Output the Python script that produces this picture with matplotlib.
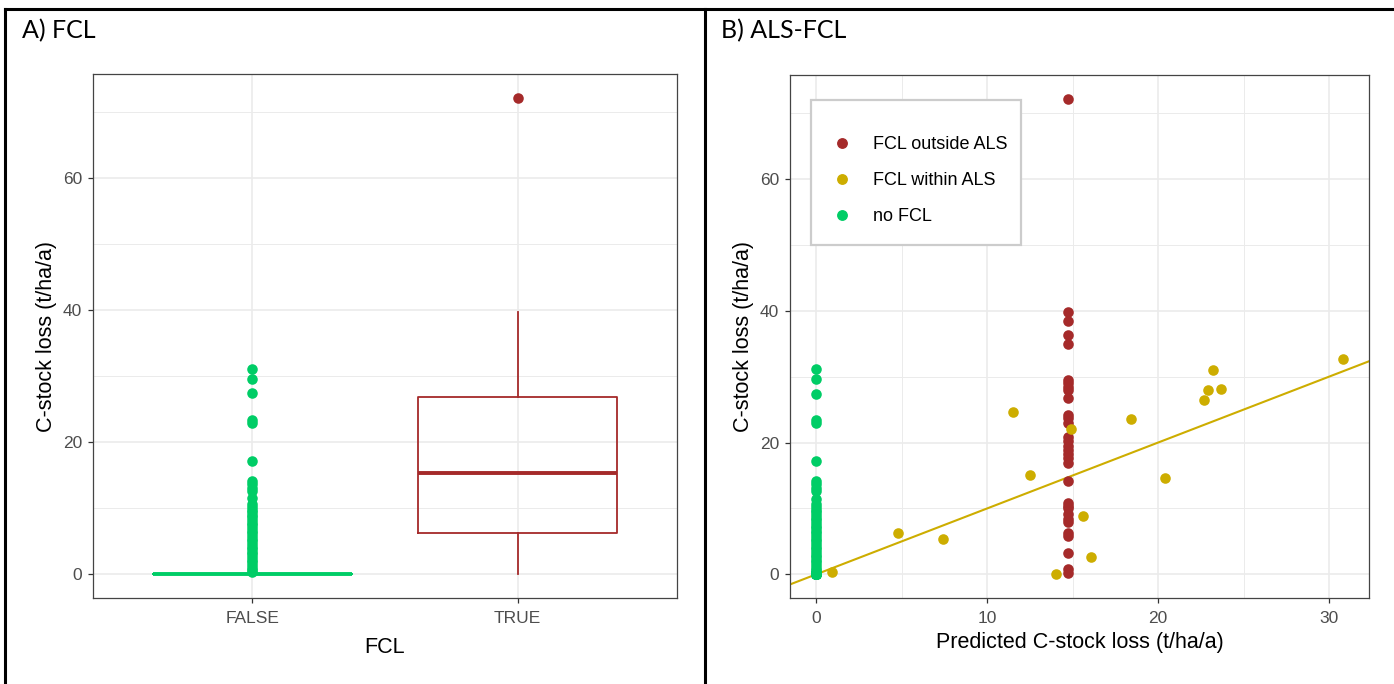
import numpy as np
import matplotlib
matplotlib.use("Agg")
import matplotlib.pyplot as plt
from matplotlib.lines import Line2D
from matplotlib.patches import Rectangle
from matplotlib.ticker import MultipleLocator

plt.rcParams['font.family'] = ['Liberation Sans', 'DejaVu Sans']

# colours used in the original (R names: brown, gold3, springgreen3)
col_out = '#A52A2A'
col_in = '#CDAD00'
col_no = '#00CD66'

# C-stock loss of plots without FCL (non-zero values, the rest sit at 0)
nofcl_loss = [31.1, 29.6, 27.4, 23.4, 22.9, 17.2, 14.2, 13.7, 13.1, 12.6, 11.5,
              10.6, 10.2, 9.8, 9.4, 9.0, 8.6, 8.2, 7.8, 7.4, 7.0, 6.6, 6.2,
              5.8, 5.4, 5.0, 4.6, 4.2, 3.8, 3.4, 3.0, 2.6, 2.2, 1.8, 1.4,
              1.0, 0.6, 0.3]
nofcl_zeros = 25

# FCL outside ALS: observed loss (predicted value is constant)
out_pred = 14.75
out_loss = [72.2, 39.8, 38.4, 36.3, 34.9, 29.5, 29.0, 28.5, 28.0, 26.8, 24.2,
            23.7, 22.9, 20.8, 20.2, 19.5, 18.9, 18.3, 17.6, 16.9, 14.1, 10.8,
            10.4, 10.0, 9.1, 8.4, 8.0, 6.3, 5.8, 3.3, 0.8, 0.2]

# FCL within ALS: predicted vs observed
in_pred = [0.9, 4.8, 7.4, 11.5, 12.5, 14.05, 14.9, 15.6, 16.1, 18.4, 20.4,
           22.7, 22.9, 23.2, 23.7, 30.8]
in_loss = [0.4, 6.2, 5.3, 24.6, 15.0, 0.05, 22.0, 8.8, 2.6, 23.5, 14.6,
           26.5, 28.0, 31.0, 28.1, 32.7]

# boxplot statistics panel A
box_labels = ['FALSE', 'TRUE']
box_q1 = [0.0, 6.2]
box_med = [0.0, 15.3]
box_q3 = [0.0, 26.8]
box_lo = [0.0, 0.0]
box_hi = [0.0, 39.8]
box_fliers = [nofcl_loss, [72.2]]
box_cols = [col_no, col_out]

W, H = 1394, 684
fig = plt.figure(figsize=(W / 100, H / 100), dpi=100)


def style(ax):
    for s in ax.spines.values():
        s.set_color('#444444')
        s.set_linewidth(0.9)
    ax.grid(True, which='major', color='#EBEBEB', lw=1.2, zorder=0)
    ax.grid(True, which='minor', color='#EBEBEB', lw=0.7, zorder=0)
    ax.set_axisbelow(True)
    ax.tick_params(which='major', length=3.5, width=0.9, color='#333333',
                   labelsize=12.5, labelcolor='#4D4D4D', pad=4.5)
    ax.tick_params(axis='x', which='major', pad=6)
    ax.tick_params(which='minor', length=0)
    ax.set_ylim(-3.6, 75.8)
    ax.yaxis.set_major_locator(MultipleLocator(20))
    ax.yaxis.set_minor_locator(MultipleLocator(10))
    ax.set_ylabel('C-stock loss (t/ha/a)', fontsize=15.5, labelpad=4)


# ---- panel A
axA = fig.add_axes([93 / W, 1 - 598 / H, (677 - 93) / W, (598 - 74) / H])
style(axA)
for i in range(2):
    st = [{'med': box_med[i], 'q1': box_q1[i], 'q3': box_q3[i],
           'whislo': box_lo[i], 'whishi': box_hi[i], 'fliers': box_fliers[i]}]
    c = box_cols[i]
    axA.bxp(st, positions=[i + 1], widths=0.75, showcaps=False,
            boxprops=dict(color=c, lw=1.3),
            whiskerprops=dict(color=c, lw=1.3),
            medianprops=dict(color=c, lw=2.8, solid_capstyle='butt'),
            flierprops=dict(marker='o', markerfacecolor=c, markeredgecolor='none',
                            markersize=7.6))
axA.set_xlim(0.4, 2.6)
axA.set_xticks([1, 2])
axA.set_xticklabels(box_labels)
axA.set_xlabel('FCL', fontsize=15.5, labelpad=8)

# ---- panel B
axB = fig.add_axes([790 / W, 1 - 598 / H, (1369 - 790) / W, (598 - 75) / H])
style(axB)
axB.set_xlim(-1.54, 32.34)
axB.xaxis.set_major_locator(MultipleLocator(10))
axB.xaxis.set_minor_locator(MultipleLocator(5))
no_y = nofcl_loss + [0.0] * nofcl_zeros
axB.scatter(np.zeros(len(no_y)), no_y, s=58, color=col_no, lw=0, zorder=3)
axB.scatter(np.full(len(out_loss), out_pred), out_loss, s=58, color=col_out, lw=0, zorder=3)
axB.scatter(in_pred, in_loss, s=58, color=col_in, lw=0, zorder=3)
axB.axline((0, 0), slope=1, color=col_in, lw=1.5, zorder=2)
axB.set_xlabel('Predicted C-stock loss (t/ha/a)', fontsize=15.5, labelpad=4)

# legend box drawn by hand (ggplot pads it unevenly)
axB.add_patch(Rectangle((811 / W, 1 - 245 / H), 210 / W, 145 / H,
                        transform=fig.transFigure, facecolor='white',
                        edgecolor='#CCCCCC', lw=1.6, zorder=4, clip_on=False))
handles = [Line2D([], [], ls='none', marker='o', markersize=6.8, color=c)
           for c in (col_out, col_in, col_no)]
leg = axB.legend(handles, ['FCL outside ALS', 'FCL within ALS', 'no FCL'],
                 loc='upper left', bbox_to_anchor=(837 / W, 1 - 136 / H),
                 bbox_transform=fig.transFigure, fontsize=13, frameon=False,
                 borderpad=0, handlelength=0.5, handletextpad=1.5,
                 labelspacing=1.05, borderaxespad=0)
leg.set_zorder(5)

# ---- panel labels and table frame
fig.text(22 / W, 1 - 38 / H, 'A) FCL', fontsize=18, family=['Lato', 'DejaVu Sans'],
         va='baseline')
fig.text(721 / W, 1 - 38 / H, 'B) ALS-FCL', fontsize=18, family=['Lato', 'DejaVu Sans'],
         va='baseline')
for xs, ys in [((5, W), (9, 9)), ((5, 5), (9, H)), ((705, 705), (9, H))]:
    fig.add_artist(Line2D([x / W for x in xs], [1 - y / H for y in ys],
                          color='black', lw=2.2, transform=fig.transFigure))

fig.savefig('out.png', dpi=100)
